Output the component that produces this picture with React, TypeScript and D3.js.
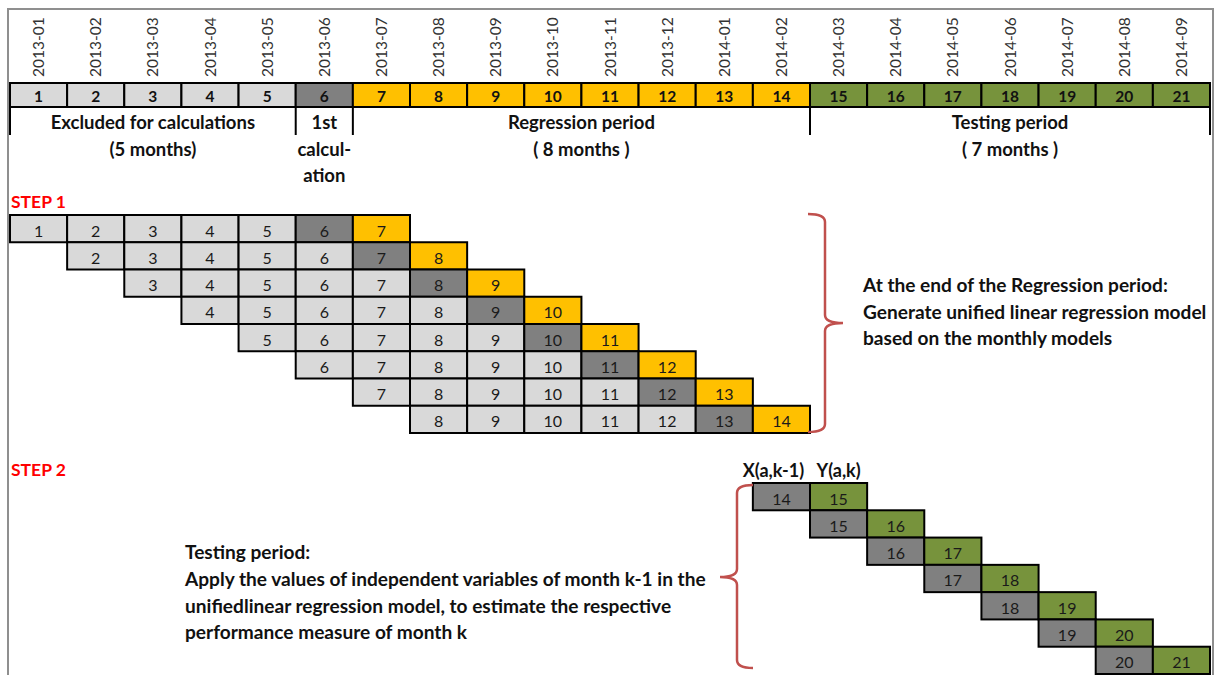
import React from "react";
import * as d3 from "d3";

// ---------- data ----------
const months = [
  "2013-01", "2013-02", "2013-03", "2013-04", "2013-05", "2013-06", "2013-07",
  "2013-08", "2013-09", "2013-10", "2013-11", "2013-12", "2014-01", "2014-02",
  "2014-03", "2014-04", "2014-05", "2014-06", "2014-07", "2014-08", "2014-09",
];
const monthIds = [1, 2, 3, 4, 5, 6, 7, 8, 9, 10, 11, 12, 13, 14, 15, 16, 17, 18, 19, 20, 21];
const headerKinds = [
  "light", "light", "light", "light", "light", "dark",
  "orange", "orange", "orange", "orange", "orange", "orange", "orange", "orange",
  "green", "green", "green", "green", "green", "green", "green",
];
const periodLabels = ["Excluded for calculations", "1st", "Regression period", "Testing period"];
const periodSubLabels = [["(5 months)"], ["calcul-", "ation"], ["( 8 months )"], ["( 7 months )"]];
const periodStarts = [1, 6, 7, 15];
const periodEnds = [5, 6, 14, 21];

// Step 1: each row = 7 consecutive months starting at rowStart
const step1RowStarts = [1, 2, 3, 4, 5, 6, 7, 8];
const step1RowLength = 7;
// Step 2: pairs X(a,k-1) -> Y(a,k)
const step2X = [14, 15, 16, 17, 18, 19, 20];
const step2Y = [15, 16, 17, 18, 19, 20, 21];

const step1Note = [
  "At the end of the Regression period:",
  "Generate unified linear regression model",
  "based on the monthly  models",
];
const step2Note = [
  "Testing period:",
  "Apply the values of independent variables of month k-1 in the",
  "unifiedlinear regression model, to estimate the respective",
  "performance measure of month k",
];

// ---------- styles ----------
const W = 1218;
const H = 675;
const FONT = "Lato, 'Open Sans', sans-serif";
const colors: Record<string, string> = {
  light: "#D9D9D9",
  dark: "#808080",
  orange: "#FFC000",
  green: "#77933C",
};
const BRACE = "#C0504D";

export default function App() {
  const x = d3.scaleBand<number>().domain(monthIds).range([10, 1210]).padding(0);
  const cw = x.bandwidth();
  const headerTop = 83;
  const headerH = 24;
  const y1 = d3.scaleBand<number>().domain(d3.range(step1RowStarts.length)).range([215, 433]);
  const y2 = d3.scaleBand<number>().domain(d3.range(step2X.length)).range([483, 674]);
  const rh1 = y1.bandwidth();
  const rh2 = y2.bandwidth();

  const sepXs = Array.from(new Set([
    ...periodStarts.map((s) => x(s)!),
    x(periodEnds[periodEnds.length - 1])! + cw,
  ]));

  // step1 cells
  const step1Cells: { m: number; r: number; kind: string }[] = [];
  step1RowStarts.forEach((s, r) => {
    for (let i = 0; i < step1RowLength; i++) {
      const m = s + i;
      const kind = i === step1RowLength - 1 ? "orange" : i === step1RowLength - 2 ? "dark" : "light";
      step1Cells.push({ m, r, kind });
    }
  });

  // brace paths
  const brace = (xl: number, xv: number, xt: number, yt: number, ym: number, yb: number) => {
    const c = 8;
    return `M${xl},${yt} Q${xv},${yt} ${xv},${yt + c} L${xv},${ym - c} Q${xv},${ym} ${xt},${ym} Q${xv},${ym} ${xv},${ym + c} L${xv},${yb - c} Q${xv},${yb} ${xl},${yb}`;
  };

  const bx1Top = y1(0)!;
  const bx1Bot = y1(step1RowStarts.length - 1)! + rh1;
  const b2Top = y2(0)! + 2;
  const b2Bot = y2(step2X.length - 1)! - 6 + rh2;

  return (
    <svg
      width={W}
      height={H}
      style={{ position: "absolute", left: 0, top: 0, background: "#fff" }}
      fontFamily={FONT}
    >
      {/* frame */}
      <rect x={8} y={9} width={1205} height={700} fill="none" stroke="#8f8f8f" strokeWidth={2} />

      {/* date labels */}
      {months.map((d, i) => (
        <text
          key={d}
          transform={`translate(${x(monthIds[i])! + cw / 2 + 5.5},77) rotate(-90)`}
          fontSize={15.5}
          fill="#333"
        >
          {d}
        </text>
      ))}

      {/* header row */}
      {monthIds.map((m, i) => (
        <g key={m}>
          <rect x={x(m)} y={headerTop} width={cw} height={headerH} fill={colors[headerKinds[i]]} stroke="#000" strokeWidth={2} />
          <text x={x(m)! + cw / 2} y={headerTop + 19} textAnchor="middle" fontWeight="bold" fontSize={15.5} fill="#111">
            {m}
          </text>
        </g>
      ))}

      {/* separators */}
      {sepXs.map((sx) => (
        <line key={sx} x1={sx} x2={sx} y1={headerTop + headerH} y2={135} stroke="#000" strokeWidth={2} />
      ))}

      {/* period labels */}
      {periodLabels.map((lab, i) => {
        const cx = (x(periodStarts[i])! + x(periodEnds[i])! + cw) / 2;
        return (
          <g key={lab} fontWeight="bold" fontSize={18.5} fill="#111" textAnchor="middle">
            <text x={cx} y={129}>{lab}</text>
            {periodSubLabels[i].map((s, j) => (
              <text key={s} x={cx} y={156 + j * 25.5}>{s}</text>
            ))}
          </g>
        );
      })}

      {/* STEP 1 */}
      <text x={11} y={208} fill="#FF0000" fontWeight="bold" fontSize={17.5}>STEP 1</text>
      {step1Cells.map((c) => (
        <g key={`${c.r}-${c.m}`}>
          <rect x={x(c.m)} y={y1(c.r)} width={cw} height={rh1} fill={colors[c.kind]} stroke="#000" strokeWidth={2} />
          <text x={x(c.m)! + cw / 2} y={y1(c.r)! + 21.5} textAnchor="middle" fontSize={16} fill="#1a1a1a">
            {c.m}
          </text>
        </g>
      ))}

      {/* brace 1 */}
      <path d={brace(808, 825, 843, bx1Top - 1, 323, bx1Bot - 1)} fill="none" stroke={BRACE} strokeWidth={2.5} />
      {step1Note.map((t, i) => (
        <text key={i} x={863} y={292 + i * 26.5} fontWeight="bold" fontSize={19.1} fill="#111">{t}</text>
      ))}

      {/* STEP 2 */}
      <text x={11} y={476} fill="#FF0000" fontWeight="bold" fontSize={17.5}>STEP 2</text>
      <text x={x(step2X[0])! + cw / 2 - 8} y={477} textAnchor="middle" fontWeight="bold" fontSize={18} fill="#111">X(a,k-1)</text>
      <text x={x(step2Y[0])! + cw / 2} y={477} textAnchor="middle" fontWeight="bold" fontSize={18} fill="#111">Y(a,k)</text>
      {step2X.map((xm, r) => (
        <g key={r}>
          <rect x={x(xm)} y={y2(r)} width={cw} height={rh2} fill={colors.dark} stroke="#000" strokeWidth={2} />
          <text x={x(xm)! + cw / 2} y={y2(r)! + 21.5} textAnchor="middle" fontSize={16} fill="#1a1a1a">{xm}</text>
          <rect x={x(step2Y[r])} y={y2(r)} width={cw} height={rh2} fill={colors.green} stroke="#000" strokeWidth={2} />
          <text x={x(step2Y[r])! + cw / 2} y={y2(r)! + 21.5} textAnchor="middle" fontSize={16} fill="#1a1a1a">{step2Y[r]}</text>
        </g>
      ))}

      {/* brace 2 (left-facing) */}
      <path d={brace(753, 737, 720, b2Top, 577, b2Bot)} fill="none" stroke={BRACE} strokeWidth={2.5} />
      {step2Note.map((t, i) => (
        <text key={i} x={185} y={559 + i * 26.8} fontWeight="bold" fontSize={19.1} fill="#111">{t}</text>
      ))}
    </svg>
  );
}
